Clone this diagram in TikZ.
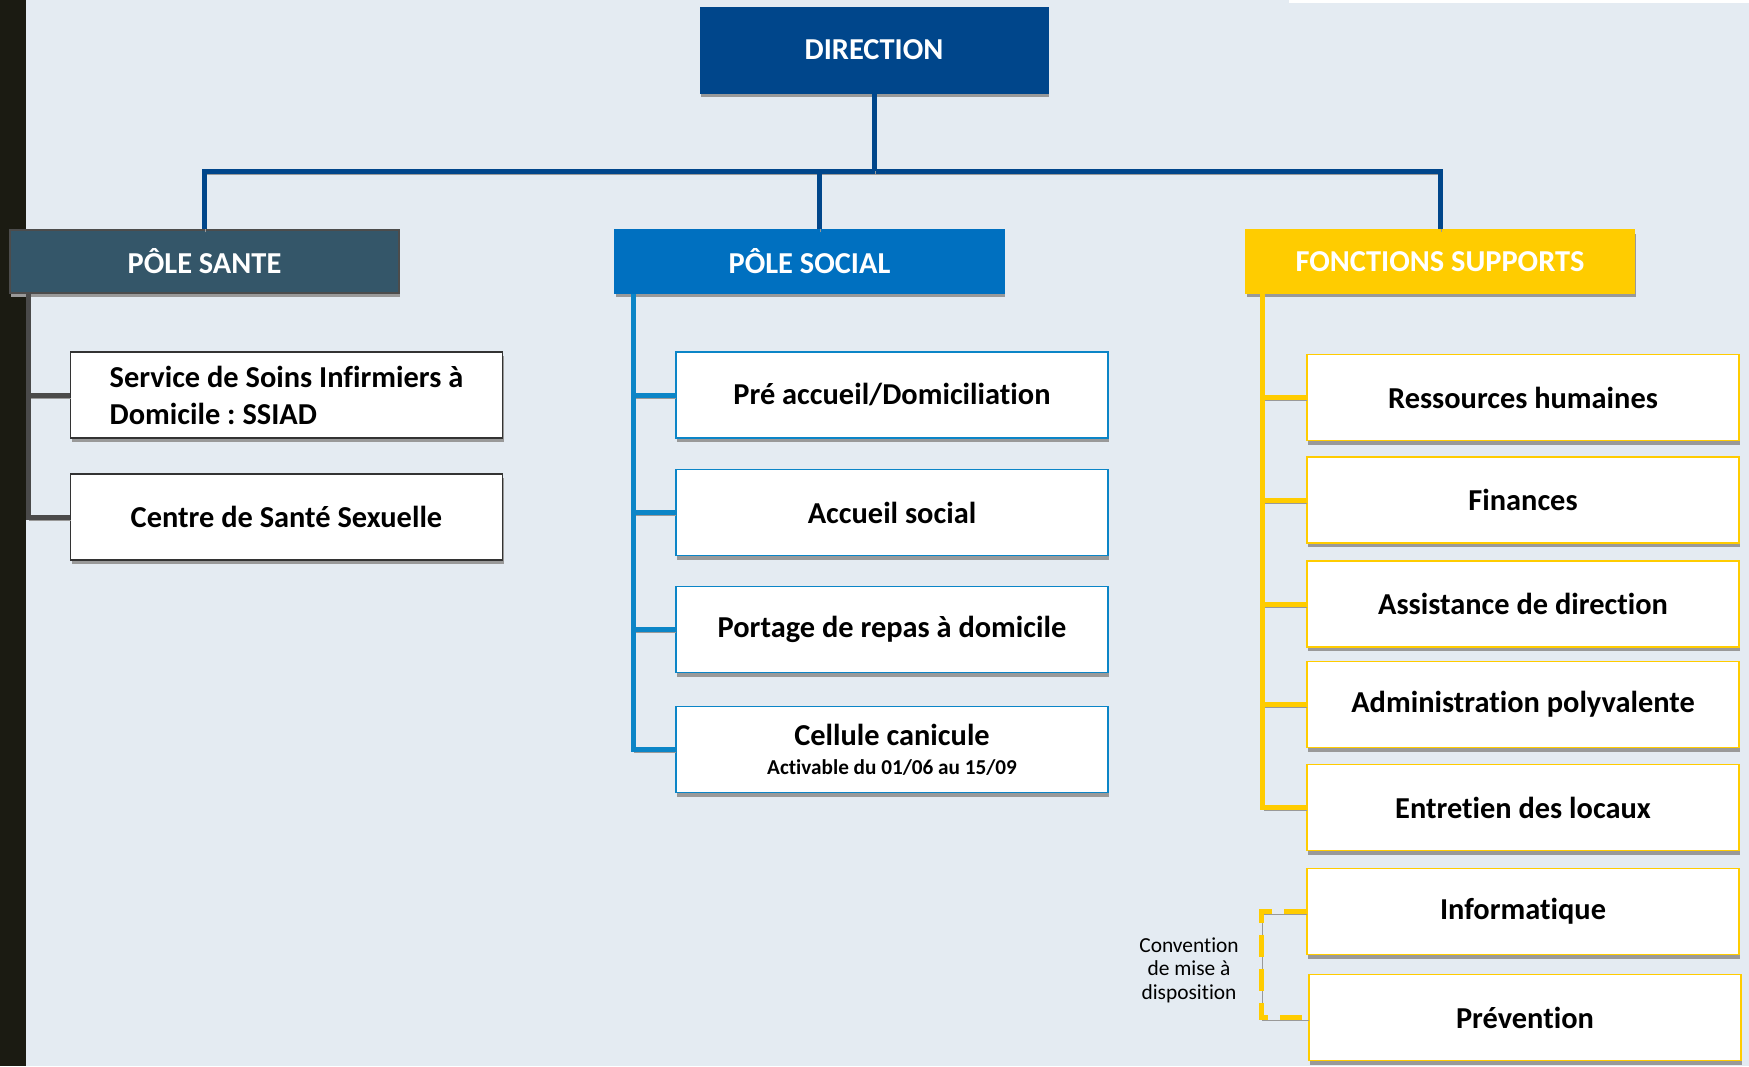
\documentclass[tikz,border=0pt]{standalone}
\usepackage{fontspec}
\setmainfont{Carlito}[Ligatures=NoCommon]
\frenchspacing
\usetikzlibrary{positioning}
\usetikzlibrary{shadows}
\definecolor{fond}{HTML}{E4EBF2}
\definecolor{bande}{HTML}{1B1B12}
\definecolor{dircol}{HTML}{00468B}
\definecolor{santecol}{HTML}{345669}
\definecolor{socialcol}{HTML}{0070C0}
\definecolor{socline}{HTML}{0B85C7}
\definecolor{supportcol}{HTML}{FFCC00}
\definecolor{santeline}{HTML}{4A4A4A}
\tikzset{
    boxshadow/.style = {drop shadow={shadow xshift=0.6pt, shadow yshift=-2pt, fill=gray!80, opacity=1}},
    lineshadow/.style = {preaction={draw=gray!80, transform canvas={shift={(0.6pt,-1.6pt)}}}},
    headfont/.style = {font=\bfseries\fontsize{15.2}{18.5}\selectfont},
    dirnode/.style = {rectangle, fill=dircol, draw=dircol, text=white, minimum width=174pt, minimum height=43pt, headfont, boxshadow},
    polenode/.style = {rectangle, thick, text=white, minimum width=194.5pt, minimum height=31.5pt, headfont, boxshadow},
    subnode/.style = {rectangle, fill=white, thick, minimum width=216pt, minimum height=43pt, align=center, headfont, boxshadow},
    subsante/.style = {subnode, draw=black!80},
    subsocial/.style = {subnode, draw=socline},
    subsupport/.style = {subnode, draw=supportcol},
    edgebus/.style = {line width=2.5pt, dircol, lineshadow},
    edgesante/.style = {line width=2.5pt, santeline, lineshadow},
    edgesocial/.style = {line width=2.5pt, socline, lineshadow},
    edgesupport/.style = {line width=2.5pt, supportcol, lineshadow},
    edgeconv/.style = {line width=2.5pt, supportcol, dash pattern=on 11pt off 6pt, lineshadow} % mise a disposition
}

\begin{document}
\begin{tikzpicture}[x=0.5pt,y=-0.5pt]
\useasboundingbox (0,0) rectangle (1749,1066);
\fill[fond] (0,0) rectangle (1749,1066);
\fill[bande] (0,0) rectangle (26,1066);
\fill[white] (1289,0) rectangle (1749,3);
%
\node[dirnode] at (874, 50) (direction) {DIRECTION};
\node[polenode, fill=santecol, draw=black!70] at (204.5, 261.5) (sante) {PÔLE SANTE};
\node[polenode, fill=socialcol, draw=socialcol] at (809.5, 261.5) (social) {PÔLE SOCIAL};
\node[polenode, fill=supportcol, draw=supportcol] at (1440, 261.5) (support) {FONCTIONS SUPPORTS};
\coordinate (bus) at (874, 171);
%
\node[subsante, align=left] at (286.5, 395) (ssiad) {Service de Soins Infirmiers à\\Domicile : SSIAD};
\node[subsante] at (286.5, 517) (css) {Centre de Santé Sexuelle};
%
\node[subsocial] at (892, 395) (preaccueil) {Pré accueil/Domiciliation};
\node[subsocial] at (892, 512.5) (accueil) {Accueil social};
\node[subsocial] at (892, 629.5) (portage) {Portage de repas à domicile};
\node[subsocial] at (892, 749.5) (canicule) {Cellule canicule\\[-4pt]{\fontsize{10.6}{12}\selectfont Activable du 01/06 au 15/09}};
%
\node[subsupport] at (1523, 397.5) (rh) {Ressources humaines};
\node[subsupport] at (1523, 500) (finances) {Finances};
\node[subsupport] at (1523, 604) (assistance) {Assistance de direction};
\node[subsupport] at (1523, 704.5) (admin) {Administration polyvalente};
\node[subsupport] at (1523, 807.5) (entretien) {Entretien des locaux};
\node[subsupport] at (1523, 911.5) (informatique) {Informatique};
\node[subsupport] at (1525, 1017.5) (prevention) {Prévention};
\node[align=center, font=\fontsize{10.7}{11.8}\selectfont] at (1189, 970) (conv) {Convention\\de mise à\\disposition};
%
\draw[edgebus] (sante.north) |- (bus) -| (support.north);
\draw[edgebus] ([xshift=5pt]social.north) -- ([xshift=5pt]social.north |- bus);
\draw[edgebus] (direction.south) -- (bus);
%
\foreach \n in {ssiad,css}
  \draw[edgesante] ([xshift=9.5pt]sante.south west) |- (\n.west);
\foreach \n in {preaccueil,accueil,portage,canicule}
  \draw[edgesocial] ([xshift=9.5pt]social.south west) |- (\n.west);
\foreach \n in {rh,finances,assistance,admin,entretien}
  \draw[edgesupport] ([xshift=9pt]support.south west) |- (\n.west);
\draw[edgeconv] (informatique.west) -- ++(-45,0) |- (prevention.west);

\end{tikzpicture}
\end{document}
